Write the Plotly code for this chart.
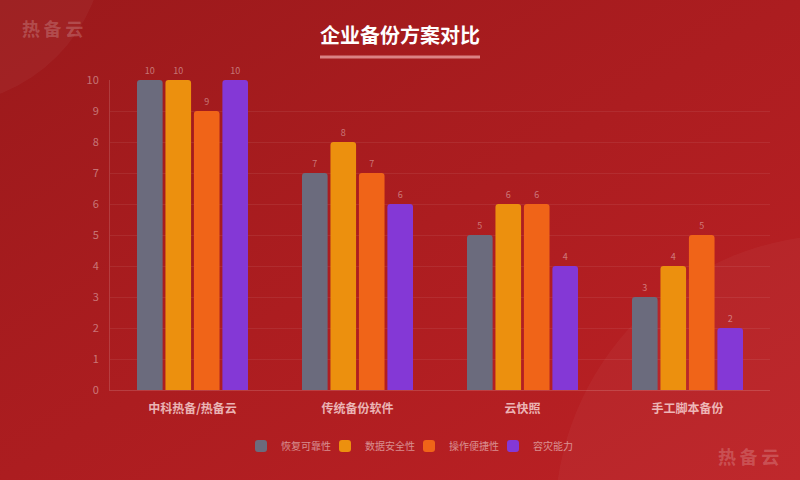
import base64
import plotly.graph_objects as go

FONT = "Noto Sans CJK SC"

categories = ["中科热备/热备云", "传统备份软件", "云快照", "手工脚本备份"]
series_names = ["恢复可靠性", "数据安全性", "操作便捷性", "容灾能力"]
recovery = [10, 7, 5, 3]
security = [10, 8, 6, 4]
ease = [9, 7, 6, 5]
disaster = [10, 6, 4, 2]
y_ticks = list(range(0, 11))

colors = ["#6b6b7d", "#ec900e", "#f06418", "#8438d6"]

# background gradient as an inline svg (no network)
svg = (
    '<svg xmlns="http://www.w3.org/2000/svg" width="800" height="480">'
    '<defs><linearGradient id="g" x1="0" y1="0" x2="1" y2="1">'
    '<stop offset="0" stop-color="#9b191b"/>'
    '<stop offset="1" stop-color="#bd2125"/>'
    "</linearGradient></defs>"
    '<rect width="800" height="480" fill="url(#g)"/></svg>'
)
bg_src = "data:image/svg+xml;base64," + base64.b64encode(svg.encode()).decode()

W, H = 800, 480
L, R, T, B = 110, 30, 80, 90
PW, PH = W - L - R, H - T - B


# pixel -> paper helpers (paper = plot area)
def px_x(v):
    return (v - L) / PW


def px_y(v):
    return (H - B - v) / PH


fig = go.Figure()
for name, vals, c in zip(series_names, [recovery, security, ease, disaster], colors):
    fig.add_trace(
        go.Bar(
            name=name,
            x=categories,
            y=vals,
            marker=dict(color=c, line=dict(width=0)),
            text=vals,
            textposition="outside",
            textfont=dict(size=9, color="rgba(255,255,255,0.4)", family=FONT),
            cliponaxis=False,
        )
    )

fig.update_layout(
    width=W,
    height=H,
    margin=dict(l=L, r=R, t=T, b=B),
    paper_bgcolor="#ab1c1f",
    plot_bgcolor="rgba(0,0,0,0)",
    font=dict(family=FONT),
    barmode="group",
    bargap=0.31,
    bargroupgap=0.1,
    barcornerradius=3,
    showlegend=True,
    legend=dict(
        orientation="h",
        x=px_x(409),
        xanchor="center",
        y=px_y(446),
        yanchor="middle",
        font=dict(size=10, color="rgba(255,255,255,0.5)", family=FONT),
        entrywidth=39,
        itemwidth=30,
        bgcolor="rgba(0,0,0,0)",
    ),
    xaxis=dict(
        showgrid=False,
        showline=True,
        linecolor="rgba(255,255,255,0.15)",
        tickfont=dict(size=12, color="rgba(255,230,230,0.75)", family=FONT),
        tickvals=categories,
        ticktext=[f"<b>{c}</b>" for c in categories],
        ticks="",
        ticklabelstandoff=8,
        automargin=False,
        fixedrange=True,
    ),
    yaxis=dict(
        range=[0, 10],
        tickvals=y_ticks,
        showgrid=True,
        gridcolor="rgba(255,255,255,0.07)",
        showline=True,
        linecolor="rgba(255,255,255,0.15)",
        zeroline=False,
        tickfont=dict(size=11, color="rgba(255,255,255,0.4)", family=FONT),
        ticklabelstandoff=8,
        automargin=False,
        fixedrange=True,
    ),
    images=[
        dict(
            source=bg_src,
            xref="paper",
            yref="paper",
            x=px_x(0),
            y=px_y(0),
            sizex=W / PW,
            sizey=H / PH,
            xanchor="left",
            yanchor="top",
            sizing="stretch",
            layer="below",
        )
    ],
)

# decorative circles
fig.add_shape(
    type="circle", xref="paper", yref="paper",
    x0=px_x(-225), x1=px_x(105), y0=px_y(-225), y1=px_y(105),
    fillcolor="rgba(255,255,255,0.04)", line=dict(width=0), layer="below",
)
fig.add_shape(
    type="circle", xref="paper", yref="paper",
    x0=px_x(555), x1=px_x(1125), y0=px_y(235), y1=px_y(805),
    fillcolor="rgba(255,255,255,0.035)", line=dict(width=0), layer="below",
)

# title + underline
fig.add_annotation(
    text="<b>企业备份方案对比</b>", xref="paper", yref="paper",
    x=px_x(400), y=px_y(35), xanchor="center", yanchor="middle", showarrow=False,
    font=dict(size=20, color="white", family=FONT),
)
fig.add_shape(
    type="line", xref="paper", yref="paper",
    x0=px_x(320), x1=px_x(480), y0=px_y(57), y1=px_y(57),
    line=dict(color="rgba(255,200,200,0.6)", width=3),
)

# watermarks
for x, y in [(52, 28), (748, 456)]:
    fig.add_annotation(
        text="<b>热\u2009备\u2009云</b>", xref="paper", yref="paper",
        x=px_x(x), y=px_y(y), xanchor="center", yanchor="middle", showarrow=False,
        font=dict(size=18, color="rgba(255,255,255,0.2)", family=FONT),
    )

fig.write_html(
    "out.html",
    config={"displayModeBar": False},
    post_script="document.body.style.margin='0';document.body.style.overflow='hidden';",
)
